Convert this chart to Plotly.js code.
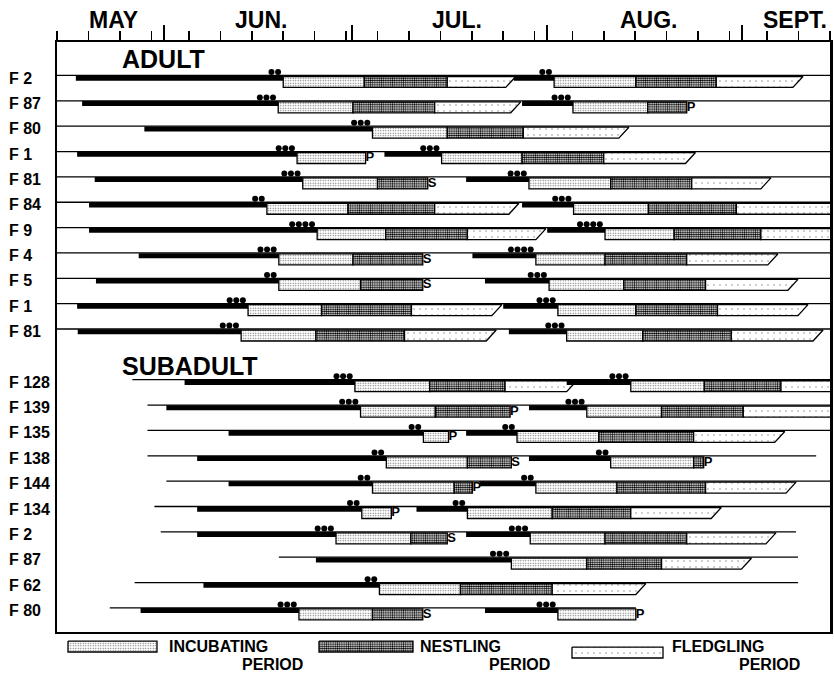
<!DOCTYPE html>
<html><head><meta charset="utf-8">
<script src="https://cdn.plot.ly/plotly-3.0.1.min.js"></script>
<style>html,body{margin:0;padding:0;background:#fff}#chart{width:834px;height:674px}</style>
</head><body><div id="chart"></div>
<script>
// Day numbers: 1 = May 1, 32 = June 1, 62 = July 1, 93 = Aug 1, 124 = Sept 1
const monthNames = ['MAY', 'JUN.', 'JUL.', 'AUG.', 'SEPT.'];
const monthStarts = [1, 32, 62, 93, 124];
const monthLabelDays = [24.0, 47.4, 78.6, 109.2, 132.4];
const tickDaysOfMonth = [5, 10, 15, 20, 25, 30];

const rowLabels = ['F 2', 'F 87', 'F 80', 'F 1', 'F 81', 'F 84', 'F 9', 'F 4', 'F 5', 'F 1', 'F 81',
  'F 128', 'F 139', 'F 135', 'F 138', 'F 144', 'F 134', 'F 2', 'F 87', 'F 62', 'F 80'];
const rowSlots = [0, 1, 2, 3, 4, 5, 6, 7, 8, 9, 10, 12, 13, 14, 15, 16, 17, 18, 19, 20, 21];
const groupNames = ['ADULT', 'SUBADULT'];
const groupSlots = [-0.65, 11.46];
const groupDays = [25.0, 25.0];

// thin line (time observed) per row
const lineStart = [15, 15, 15, 15, 15, 15, 15, 15, 15, 15, 15,
  27.0, 29.4, 29.4, 29.4, 32.4, 30.5, 31.5, 50.3, 27.35, 23.4];
const lineEnd = [138, 138, 138, 138, 138, 138, 138, 138, 138, 138, 138,
  138, 138, 138, 135.8, 138, 138, 132.6, 132.9, 132.9, 107.1];

// clutches
const clutchRow  = [0, 0, 1, 1, 2, 3, 3, 4, 4, 5, 5, 6, 6, 7, 7, 8, 8, 9, 9, 10, 10,
  11, 11, 12, 12, 13, 13, 14, 14, 15, 15, 16, 16, 17, 17, 18, 19, 20, 20];
const barStart   = [18.0, 87.7, 19.0, 89.0, 28.9, 18.2, 67.1, 21.0, 80.1, 20.1, 89.0, 20.1, 93.0, 28.0, 81.1, 21.2, 83.1, 18.2, 86.0, 18.3, 86.9,
  35.3, 96.1, 32.4, 90.1, 42.3, 80.1, 37.3, 90.1, 42.3, 82.2, 37.3, 72.2, 37.3, 80.1, 56.2, 38.3, 28.3, 83.1];
const incStart   = [51.0, 94.1, 50.2, 97.1, 65.2, 53.2, 76.2, 54.1, 90.1, 48.4, 97.2, 56.4, 102.2, 50.3, 91.2, 50.3, 93.3, 45.4, 94.7, 44.3, 96.1,
  62.4, 106.3, 63.3, 99.3, 73.3, 88.2, 67.4, 103.1, 65.2, 91.2, 63.5, 80.3, 59.4, 90.3, 87.3, 66.3, 53.5, 94.7];
const incEnd     = [63.9, 107.1, 62.1, 109.0, 77.1, 64.1, 89.0, 66.0, 103.1, 61.3, 109.1, 67.3, 113.2, 62.1, 102.2, 63.3, 105.2, 57.1, 107.1, 56.2, 108.2,
  74.3, 118.0, 75.2, 111.2, 77.3, 101.2, 80.3, 116.3, 78.2, 104.1, 68.2, 93.8, 71.3, 102.2, 99.3, 79.2, 65.2, 107.1];
const nestEnd    = [77.1, 119.9, 75.1, 115.2, 89.2, null, 102.0, 74.0, 116.0, 75.1, 123.1, 80.3, 127.0, 73.2, 115.2, 73.2, 118.2, 71.4, 120.1, 70.3, 122.3,
  86.3, 130.2, 87.1, 124.2, null, 116.3, 87.3, 117.9, 81.1, 118.2, null, 106.3, 77.1, 115.2, 111.2, 93.8, 73.2, null];
const fledgeEnd  = [88.0, 133.7, 88.8, null, 106.0, null, 116.6, null, 128.6, 88.5, 140, 92.8, 140, null, 129.7, null, 132.9, 85.8, 134.5, 84.9, 136.9,
  97.7, 140, null, 140, null, 130.8, null, null, null, 132.6, null, 120.7, null, 129.4, 125.5, 108.7, null, null];
const eggs       = [2, 2, 3, 3, 3, 3, 3, 3, 3, 2, 3, 4, 4, 3, 4, 2, 3, 3, 3, 3, 3,
  3, 3, 3, 3, 2, 2, 2, 2, 2, 2, 2, 2, 3, 3, 3, 2, 3, 3];
const outcome    = ['', '', '', 'P', '', 'P', '', 'S', '', '', '', '', '', 'S', '', 'S', '', '', '', '', '',
  '', '', 'P', '', 'P', '', 'S', 'P', 'P', '', 'P', '', 'S', '', '', '', 'S', 'P'];

const legendNames = ['INCUBATING', 'NESTLING', 'FLEDGLING'];

// ---- style constants ----
const FONT = 'Liberation Sans, Arial, Helvetica, sans-serif';
const Y = {boxTop: 0.04, boxBot: 0.473, bar: 0.107, dot: -0.134, letter: 0.256};
const SLANT = 1.6, DOT_STEP = 1.05, DOT_GAP = 0.3;
const patInc = {shape: '.', size: 2.5, solidity: 0.22, fgcolor: '#666', bgcolor: '#ffffff'};
const patNest = {shape: '.', size: 2.2, solidity: 0.55, fgcolor: '#000', bgcolor: '#ffffff'};
const patFle = {shape: '.', size: 6, solidity: 0.05, fgcolor: '#888', bgcolor: '#ffffff'};

const thinX = [], thinY = [];
rowLabels.forEach((_, i) => {
  const s = rowSlots[i];
  thinX.push(lineStart[i], lineEnd[i], null); thinY.push(s, s, null);
});

const barX = [], barY = [], dotX = [], dotY = [];
const incX = [], incY = [], nestX = [], nestY = [], fleX = [], fleY = [];
const letX = [], letY = [], letT = [];
function rect(xs, ys, x0, x1, s) {
  const t = s + Y.boxTop, b = s + Y.boxBot;
  xs.push(x0, x1, x1, x0, x0, null); ys.push(t, t, b, b, t, null);
}
for (let k = 0; k < clutchRow.length; k++) {
  const s = rowSlots[clutchRow[k]];
  barX.push(barStart[k], incStart[k], null); barY.push(s + Y.bar, s + Y.bar, null);
  for (let e = 0; e < eggs[k]; e++) {
    dotX.push(incStart[k] - DOT_GAP - (e + 0.5) * DOT_STEP); dotY.push(s + Y.dot);
  }
  rect(incX, incY, incStart[k], incEnd[k], s);
  let last = incEnd[k];
  if (nestEnd[k] != null) { rect(nestX, nestY, incEnd[k], nestEnd[k], s); last = nestEnd[k]; }
  if (fledgeEnd[k] != null) {
    const f0 = nestEnd[k], f1 = fledgeEnd[k], t = s + Y.boxTop, b = s + Y.boxBot;
    fleX.push(f0, f1, f1 - SLANT, f0, f0, null); fleY.push(t, t, b, b, t, null);
    last = f1;
  }
  if (outcome[k]) { letX.push(last); letY.push(s + Y.letter); letT.push('<b>' + outcome[k] + '</b>'); }
}

const boxLine = {color: '#000', width: 1.3};
const traces = [
  {x: thinX, y: thinY, mode: 'lines', line: {color: '#000', width: 1.3}},
  {x: incX, y: incY, mode: 'lines', fill: 'toself', fillcolor: '#fff', fillpattern: patInc, line: boxLine},
  {x: nestX, y: nestY, mode: 'lines', fill: 'toself', fillcolor: '#fff', fillpattern: patNest, line: boxLine},
  {x: fleX, y: fleY, mode: 'lines', fill: 'toself', fillcolor: '#fff', fillpattern: patFle, line: boxLine},
  {x: barX, y: barY, mode: 'lines', line: {color: '#000', width: 5}},
  {x: dotX, y: dotY, mode: 'markers', marker: {color: '#000', size: 6, line: {width: 0}}},
  {x: letX, y: letY, text: letT, mode: 'text', textposition: 'middle right',
   textfont: {family: FONT, size: 13, color: '#000'}},
  {x: [], y: [], xaxis: 'x3', yaxis: 'y', mode: 'markers'}
];

// legend swatches (pixel coordinates on a helper subplot)
const swX = [[68, 157], [319, 413], [572, 663]];
const swY = [[641, 652], [641, 652], [647, 658]];
const pats = [patInc, patNest, patFle];
for (let i = 0; i < 3; i++) {
  const [a, b] = swX[i], [c, d] = swY[i];
  traces.push({x: [a, b, b, a, a], y: [c, c, d, d, c], xaxis: 'x2', yaxis: 'y2', mode: 'lines',
    fill: 'toself', fillcolor: '#fff', fillpattern: pats[i], line: boxLine});
}
traces.forEach(t => { t.type = 'scatter'; t.hoverinfo = 'skip'; t.showlegend = false; });

const tickVals = [];
monthStarts.forEach(m => tickDaysOfMonth.forEach(d => {
  const v = m - 1 + d; if (v >= 15 && v <= 138) tickVals.push(v);
}));

const annotations = [];
rowLabels.forEach((lab, i) => annotations.push({
  text: '<b>' + lab + '</b>', xref: 'paper', x: -0.0647, xanchor: 'left',
  yref: 'y', y: rowSlots[i] + 0.1, yanchor: 'middle', showarrow: false,
  font: {family: FONT, size: 16, color: '#000'}
}));
groupNames.forEach((g, i) => annotations.push({
  text: '<b>' + g + '</b>', xref: 'x', x: groupDays[i], xanchor: 'left',
  yref: 'y', y: groupSlots[i], yanchor: 'middle', showarrow: false,
  font: {family: FONT, size: 25, color: '#000'}
}));
monthNames.forEach((m, i) => annotations.push({
  text: '<b>' + m + '</b>', xref: 'x', x: monthLabelDays[i], xanchor: 'center',
  yref: 'paper', y: 1.0348, yanchor: 'middle', showarrow: false,
  font: {family: FONT, size: 23, color: '#000'}
}));
// legend text positions (paper fractions)
const legTextX = [0.1423, 0.467, 0.793];
const legPeriodX = [0.3208, 0.6404, 0.9638];
const legTextY = [0.0435, 0.0435, 0.0435];
const legPeriodY = [0.0150, 0.0150, 0.0150];
legendNames.forEach((n, i) => {
  annotations.push({text: '<b>' + n + '</b>', xref: 'paper', x: legTextX[i], xanchor: 'left',
    yref: 'paper', y: legTextY[i], yanchor: 'middle', showarrow: false,
    font: {family: FONT, size: 16, color: '#000'}});
  annotations.push({text: '<b>PERIOD</b>', xref: 'paper', x: legPeriodX[i], xanchor: 'right',
    yref: 'paper', y: legPeriodY[i], yanchor: 'middle', showarrow: false,
    font: {family: FONT, size: 16, color: '#000'}});
});

const layout = {
  width: 834, height: 674,
  margin: {l: 57, r: 4, t: 42, b: 0, pad: 0},
  paper_bgcolor: '#fff', plot_bgcolor: '#fff',
  showlegend: false,
  xaxis: {range: [15, 138], side: 'top', anchor: 'y', domain: [0, 1],
    showline: true, linewidth: 2.5, linecolor: '#000', mirror: true,
    ticks: 'outside', ticklen: 9, tickwidth: 1.5, tickcolor: '#000',
    tickvals: tickVals, showticklabels: false, showgrid: false, zeroline: false, fixedrange: true},
  xaxis3: {range: [15, 138], side: 'top', overlaying: 'x', anchor: 'y',
    showline: false, ticks: 'outside', ticklen: 16, tickwidth: 2, tickcolor: '#000',
    tickvals: monthStarts, showticklabels: false, showgrid: false, zeroline: false},
  yaxis: {range: [21.95, -1.32], domain: [0.06646, 1], anchor: 'x',
    showline: true, linewidth: 2.5, linecolor: '#000', mirror: true,
    ticks: '', showticklabels: false, showgrid: false, zeroline: false, fixedrange: true},
  xaxis2: {range: [57, 830], domain: [0, 1], anchor: 'y2', visible: false},
  yaxis2: {range: [674, 632], domain: [0, 0.0664], anchor: 'x2', visible: false},
  annotations: annotations
};

Plotly.newPlot('chart', traces, layout, {staticPlot: true, displayModeBar: false});
</script>
</body></html>
